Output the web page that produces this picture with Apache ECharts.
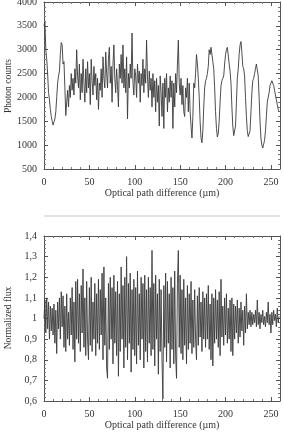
<!DOCTYPE html>
<html>
<head>
<meta charset="utf-8">
<script src="https://cdn.jsdelivr.net/npm/echarts@6/dist/echarts.min.js"></script>
<style>
html,body{margin:0;padding:0;background:#fff;}
#c{width:284px;height:434px;}
</style>
</head>
<body>
<div id="c"></div>
<script>
// Optical path difference (µm), 1 µm steps
const opd = Array.from({length: 260}, (_, i) => i);

// Top panel: photon counts
const photonCounts = [
  3500, 3580, 3000, 2800, 2500, 2100, 1950, 1750, 1600, 1500,
  1420, 1380, 1550, 1700, 2000, 2300, 2450, 2550, 2900, 3150,
  3100, 2700, 2750, 2200, 1620, 1900, 2150, 1800, 2250, 2000,
  2500, 2150, 2400, 2050, 2600, 2300, 3000, 2450, 2200, 2700,
  1950, 2500, 2100, 2800, 2300, 1900, 2600, 2100, 2750, 2200,
  2500, 1850, 2800, 2350, 2050, 2650, 2250, 2500, 1950, 2400,
  1750, 2300, 2150, 2600, 2000, 2850, 2400, 2200, 2950, 2500,
  2200, 2800, 3050, 2300, 2650, 1900, 2700, 3100, 2400, 2100,
  2600, 2250, 1800, 2700, 2400, 2900, 2300, 3100, 2200, 2600,
  2100, 2850, 1550, 2500, 2200, 2700, 2400, 3350, 2300, 2050,
  2600, 2450, 2000, 2700, 2300, 2550, 1900, 2500, 2250, 2800,
  2100, 2600, 2300, 3200, 2450, 2000, 2550, 2150, 2400, 1800,
  2500, 2000, 2350, 1700, 2400, 1900, 2250, 1400, 2450, 2100,
  1600, 2300, 1350, 2400, 2000, 2500, 1700, 2200, 1900, 2450,
  2000, 2350, 1350, 2300, 1800, 2500, 2100, 2700, 3200, 2300,
  2050, 2400, 1850, 2250, 1700, 1600, 2200, 2000, 2400, 1700,
  2300, 1700, 1400, 1150, 1600, 2300, 2200, 2500, 2900, 2700,
  2400, 2000, 1500, 1150, 1050, 1300, 1800, 2200, 2350, 2400,
  2500, 2650, 3000, 2900, 3050, 3060, 2750, 2600, 2200, 1700,
  1350, 1170, 1250, 1500, 1900, 2250, 2350, 2400, 2450, 2700,
  2900, 3000, 3050, 3090, 2700, 2550, 2300, 1800, 1400, 1200,
  1180, 1400, 1900, 2400, 2600, 2900, 3100, 3170, 2950, 2650,
  2600, 2450, 2000, 1600, 1300, 1180, 1170, 1300, 1700, 2100,
  2350, 2400, 2500, 2600, 2700, 2710, 2450, 2000, 1500, 1150,
  1000, 940, 960, 1100, 1300, 1600, 1900, 2000, 2100, 2250,
  2300, 2350, 2370, 2250, 2150, 2050, 1950, 1850, 1750, 1700
];

// Bottom panel: normalized flux
const normFlux = [
  1.0, 1.09, 0.93, 1.1, 0.95, 1.08, 0.9, 1.06, 0.94, 1.05,
  0.92, 1.07, 0.88, 1.04, 0.83, 1.08, 0.95, 1.1, 0.9, 1.13,
  0.96, 1.11, 0.86, 1.06, 0.84, 1.12, 0.9, 1.03, 0.87, 1.1,
  0.92, 1.15, 0.85, 1.08, 0.79, 1.18, 0.9, 1.19, 0.88, 1.12,
  0.84, 1.16, 0.93, 1.24, 0.86, 1.1, 0.82, 1.18, 0.9, 0.8,
  1.15, 0.87, 1.2, 0.84, 1.08, 0.9, 1.17, 0.82, 1.12, 0.88,
  1.19, 0.85, 1.14, 0.92, 1.22, 0.8, 1.25, 0.87, 1.1, 0.76,
  0.71, 1.17, 0.85, 1.2, 0.9, 1.15, 0.78, 1.21, 0.88, 1.13,
  0.82, 1.18, 0.72, 1.12, 0.84, 1.25, 0.9, 1.16, 0.76, 1.2,
  0.86, 1.3, 0.8, 1.17, 0.88, 1.22, 0.74, 1.14, 0.85, 1.19,
  0.82, 1.15, 0.78, 1.23, 0.87, 1.12, 0.8, 1.2, 0.9, 1.17,
  0.76, 1.21, 0.84, 1.14, 0.79, 1.2, 0.88, 1.15, 0.82, 1.33,
  0.85, 1.17, 0.77, 1.21, 0.9, 1.12, 0.73, 1.19, 0.84, 1.14,
  0.8, 0.61, 1.16, 0.86, 1.22, 0.79, 1.18, 0.88, 1.12, 0.76,
  1.2, 0.85, 1.15, 0.78, 1.23, 0.82, 0.71, 1.17, 1.33, 0.86,
  1.21, 0.83, 1.14, 0.8, 1.19, 0.87, 1.1, 0.78, 1.16, 0.85,
  1.12, 0.88, 1.18, 0.83, 1.09, 0.86, 1.14, 0.9, 0.8, 1.11,
  0.87, 1.15, 0.91, 1.08, 0.84, 1.13, 0.9, 1.1, 0.86, 1.12,
  0.9, 1.16, 0.85, 1.07, 0.8, 1.12, 0.77, 1.1, 0.88, 1.14,
  0.9, 1.09, 0.86, 1.13, 0.82, 1.19, 0.91, 1.06, 0.87, 1.1,
  0.92, 1.12, 0.88, 1.05, 0.9, 1.09, 0.84, 1.1, 0.82, 1.07,
  0.9, 1.06, 0.93, 1.09, 0.88, 1.05, 0.91, 1.08, 0.94, 1.04,
  0.87, 1.06, 0.93, 1.12, 0.95, 1.03, 0.97, 1.04, 0.96, 1.03,
  0.97, 1.02, 0.98, 1.04, 0.96, 1.09, 0.97, 1.03, 0.95, 1.02,
  0.98, 1.04, 0.97, 1.01, 0.96, 1.03, 0.98, 1.08, 0.97, 1.02,
  0.93, 1.03, 0.97, 1.04, 0.99, 1.02, 0.96, 1.05, 0.98, 1.01
];

const xTitle = 'Optical path difference (\u00b5m)';
const yTitleTop = 'Photon counts';
const yTitleBottom = 'Normalized flux';

const FONT = '"Liberation Serif", "DejaVu Serif", serif';
const INK = '#333';

function frameX(gridIndex, position, showLabels) {
  return {
    type: 'value', gridIndex: gridIndex, position: position,
    min: 0, max: 260, interval: 50,
    name: showLabels ? xTitle : '', nameLocation: 'middle', nameGap: 19,
    nameTextStyle: {fontFamily: FONT, fontSize: 10, color: INK},
    axisLine: {show: true, onZero: false, lineStyle: {color: '#555', width: 1}},
    axisTick: {show: true, inside: true, length: 4, lineStyle: {color: '#555'}},
    minorTick: {show: true, splitNumber: 5, length: 2, lineStyle: {color: '#777'}},
    axisLabel: {show: showLabels, fontFamily: FONT, fontSize: 10, color: INK, margin: 8,
      showMaxLabel: false},
    splitLine: {show: false}
  };
}
function frameY(gridIndex, position, showLabels, min, max, interval, fmt) {
  return {
    type: 'value', gridIndex: gridIndex, position: position,
    min: min, max: max, interval: interval,
    axisLine: {show: true, onZero: false, lineStyle: {color: '#555', width: 1}},
    axisTick: {show: true, inside: true, length: 4, lineStyle: {color: '#555'}},
    minorTick: {show: true, splitNumber: 5, length: 2, lineStyle: {color: '#777'}},
    axisLabel: {show: showLabels, fontFamily: FONT, fontSize: 10, color: INK, margin: 7,
      formatter: fmt},
    splitLine: {show: false}
  };
}
const commaFmt = v => {
  const r = Math.round(v * 10) / 10;
  return Number.isInteger(r) ? String(r) : r.toFixed(1).replace('.', ',');
};
function yTitle(text, cy) {
  return {
    type: 'text', x: 8, y: cy, rotation: Math.PI / 2,
    style: {text: text, fontFamily: FONT, fontSize: 9.5, fill: INK,
      align: 'center', verticalAlign: 'middle'}
  };
}

const chart = echarts.init(document.getElementById('c'), null, {renderer: 'canvas'});
chart.setOption({
  backgroundColor: '#fff',
  animation: false,
  grid: [
    {left: 44, right: 4, top: 2, height: 167, containLabel: false, outerBoundsMode: 'none'},
    {left: 44, right: 4, top: 236, height: 165, containLabel: false, outerBoundsMode: 'none'}
  ],
  xAxis: [
    frameX(0, 'bottom', true), frameX(0, 'top', false),
    frameX(1, 'bottom', true), frameX(1, 'top', false)
  ],
  yAxis: [
    frameY(0, 'left', true, 500, 4000, 500, v => String(v)),
    frameY(0, 'right', false, 500, 4000, 500, v => String(v)),
    frameY(1, 'left', true, 0.6, 1.4, 0.1, commaFmt),
    frameY(1, 'right', false, 0.6, 1.4, 0.1, commaFmt)
  ],
  graphic: [
    {type: 'line', shape: {x1: 44, y1: 216, x2: 280, y2: 216},
     style: {stroke: '#c8c8c8', lineWidth: 1}},
    yTitle(yTitleTop, 86),
    yTitle(yTitleBottom, 318)
  ],
  series: [
    {type: 'line', xAxisIndex: 0, yAxisIndex: 0, showSymbol: false, symbol: 'none',
     lineStyle: {color: '#3a3a3a', width: 0.9},
     data: opd.map((x, i) => [x, photonCounts[i]])},
    {type: 'line', xAxisIndex: 2, yAxisIndex: 2, showSymbol: false, symbol: 'none',
     lineStyle: {color: '#3a3a3a', width: 0.9},
     data: opd.map((x, i) => [x, normFlux[i]])}
  ]
});
</script>
</body>
</html>
